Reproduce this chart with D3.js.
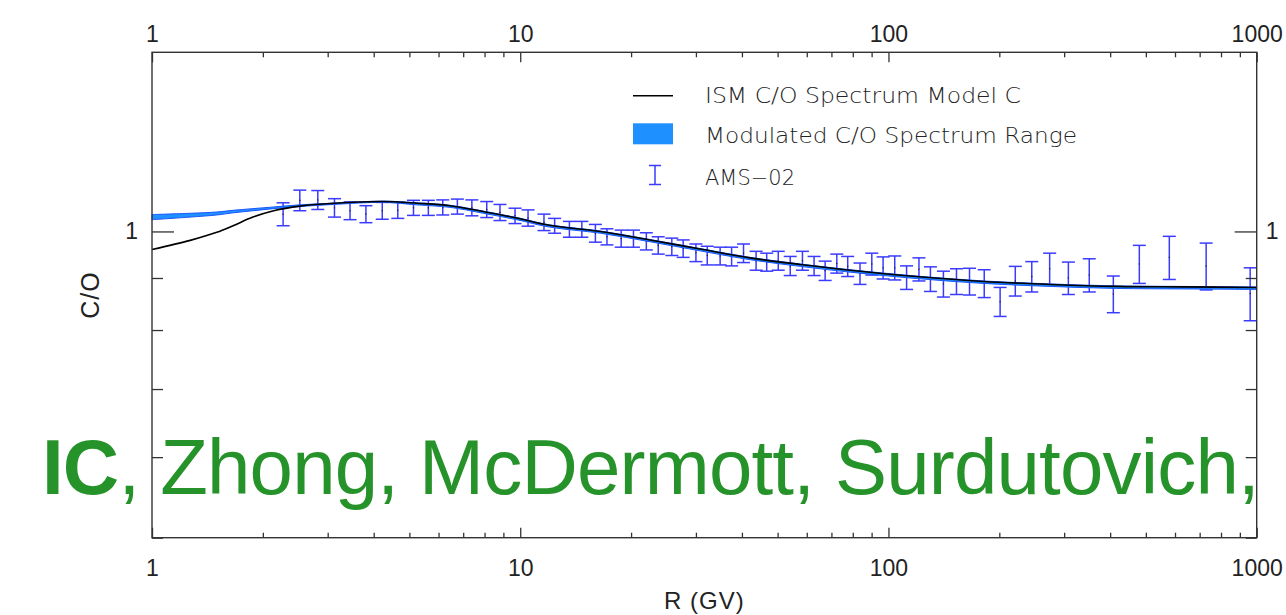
<!DOCTYPE html>
<html>
<head>
<meta charset="utf-8">
<script src="https://cdn.jsdelivr.net/npm/d3@7"></script>
<style>
  html, body { margin: 0; padding: 0; background: #fff; }
  svg { display: block; }
</style>
</head>
<body>
<svg id="chart" width="1286" height="615"></svg>
<script>
// ---------------- data ----------------
const xTickValues = [1, 10, 100, 1000];
const xTickLabels = ["1", "10", "100", "1000"];
const yTickValues = [1];
const yTickLabels = ["1"];
const yMinorTicks = [0.5, 0.6, 0.7, 0.8, 0.9];

// ISM C/O spectrum model C
const modelR  = [1.0, 1.27, 1.5, 1.66, 1.88, 2.14, 2.52, 3.11, 4.25, 5.24, 6.45, 7.94, 9.78, 12.0, 16.5, 22.5, 30.8, 42.1, 57.6, 78.7, 119, 181, 275, 417, 632, 1000];
const modelCO = [0.960, 0.980, 0.998, 1.013, 1.033, 1.048, 1.059, 1.066, 1.070, 1.066, 1.060, 1.046, 1.031, 1.014, 1.000, 0.981, 0.961, 0.942, 0.928, 0.916, 0.903, 0.893, 0.887, 0.883, 0.882, 0.881];

// Modulated C/O spectrum range
const bandR  = [1.0, 1.27, 1.5, 1.66, 1.88, 2.14, 2.52, 3.11, 4.25, 5.24, 6.45, 7.94, 9.78, 12.0, 16.5, 22.5, 30.8, 42.1, 57.6, 78.7, 119, 181, 275, 417, 632, 1000];
const bandLo = [1.027, 1.033, 1.038, 1.043, 1.048, 1.053, 1.058, 1.063, 1.068, 1.062, 1.056, 1.042, 1.027, 1.010, 0.996, 0.977, 0.957, 0.938, 0.924, 0.912, 0.899, 0.889, 0.883, 0.879, 0.878, 0.877];
const bandHi = [1.039, 1.042, 1.045, 1.049, 1.053, 1.057, 1.062, 1.066, 1.071, 1.067, 1.061, 1.047, 1.032, 1.015, 1.001, 0.982, 0.962, 0.943, 0.929, 0.917, 0.904, 0.894, 0.888, 0.884, 0.883, 0.882];

// AMS-02 data
const amsR = [2.27, 2.52, 2.82, 3.13, 3.45, 3.81, 4.22, 4.65, 5.13, 5.63,
              6.16, 6.75, 7.39, 8.11, 8.81, 9.68, 10.5, 11.6, 12.4, 13.6,
              14.7, 16.0, 17.2, 18.8, 20.3, 22.0, 23.7, 25.8, 27.7, 30.0,
              32.2, 34.9, 37.5, 40.4, 43.7, 46.7, 50.2, 54.1, 58.4, 62.8,
              67.3, 72.4, 77.5, 83.7, 90.1, 96.7, 104, 112, 121, 130,
              141, 153, 166, 182, 201, 221, 245, 274, 308, 351,
              408, 480, 579, 729, 960];
const amsCO = [1.040, 1.073, 1.074, 1.055, 1.048, 1.040, 1.048, 1.049, 1.055, 1.055,
               1.056, 1.058, 1.055, 1.051, 1.044, 1.036, 1.031, 1.021, 1.013, 1.005,
               1.005, 0.996, 0.988, 0.984, 0.984, 0.978, 0.969, 0.966, 0.962, 0.953,
               0.947, 0.946, 0.945, 0.952, 0.936, 0.933, 0.936, 0.925, 0.936, 0.925,
               0.915, 0.930, 0.924, 0.909, 0.929, 0.921, 0.921, 0.901, 0.918, 0.898,
               0.888, 0.893, 0.893, 0.889, 0.853, 0.894, 0.903, 0.919, 0.900, 0.906,
               0.868, 0.929, 0.943, 0.925, 0.869];
const amsErr = [0.027, 0.025, 0.023, 0.022, 0.021, 0.020, 0.020, 0.019, 0.018, 0.018,
                0.018, 0.018, 0.019, 0.019, 0.019, 0.018, 0.019, 0.019, 0.017, 0.018,
                0.018, 0.020, 0.018, 0.019, 0.019, 0.019, 0.019, 0.019, 0.019, 0.019,
                0.020, 0.019, 0.020, 0.020, 0.020, 0.019, 0.020, 0.020, 0.020, 0.020,
                0.020, 0.020, 0.021, 0.022, 0.023, 0.023, 0.025, 0.024, 0.024, 0.025,
                0.026, 0.026, 0.027, 0.028, 0.028, 0.030, 0.031, 0.033, 0.033, 0.034,
                0.036, 0.040, 0.046, 0.049, 0.052];

const legendLabels = ["ISM C/O Spectrum Model C", "Modulated C/O Spectrum Range", "AMS\u221202"];

// ---------------- layout ----------------
const L = 152, R = 1256.7, T = 52.3, B = 537.7;
const svg = d3.select("#chart");

const x = d3.scaleLog().domain([1, 1000]).range([L, R]);
const y = d3.scaleLog().domain([0.5, 1.5]).range([B, T]);

const xMinor = [];
[1, 10, 100].forEach(d => { for (let k = 2; k <= 9; k++) xMinor.push(d * k); });

const tickFont = "'Liberation Sans', Arial, Helvetica, sans-serif";
const axisColor = "#333";
const errColor = "#3b3bff";

// ---------------- data marks ----------------
const gData = svg.append("g");

// error bars
const capW = 6.5;
const eb = gData.append("g").selectAll("g").data(amsR.map((r, i) => ({r, v: amsCO[i], e: amsErr[i]})))
  .join("g");
eb.append("line")
  .attr("x1", d => x(d.r)).attr("x2", d => x(d.r))
  .attr("y1", d => y(d.v + d.e)).attr("y2", d => y(d.v - d.e))
  .attr("stroke", errColor).attr("stroke-width", 1.5);
eb.append("line")
  .attr("x1", d => x(d.r) - capW).attr("x2", d => x(d.r) + capW)
  .attr("y1", d => y(d.v + d.e)).attr("y2", d => y(d.v + d.e))
  .attr("stroke", errColor).attr("stroke-width", 1.5);
eb.append("line")
  .attr("x1", d => x(d.r) - capW).attr("x2", d => x(d.r) + capW)
  .attr("y1", d => y(d.v - d.e)).attr("y2", d => y(d.v - d.e))
  .attr("stroke", errColor).attr("stroke-width", 1.5);
eb.append("rect")
  .attr("x", d => x(d.r) - 0.6).attr("y", d => y(d.v) - 0.6)
  .attr("width", 1.2).attr("height", 1.2).attr("fill", "#222");

// modulated band
const area = d3.area()
  .x((d, i) => x(bandR[i]))
  .y0((d, i) => y(bandLo[i]))
  .y1((d, i) => y(bandHi[i]))
  .curve(d3.curveCatmullRom.alpha(0.5));
gData.append("path")
  .datum(bandR)
  .attr("d", area)
  .attr("fill", "#1e90ff")
  .attr("stroke", "#1a55ff")
  .attr("stroke-width", 1);

// model line
const line = d3.line()
  .x((d, i) => x(modelR[i]))
  .y((d, i) => y(modelCO[i]))
  .curve(d3.curveCatmullRom.alpha(0.5));
gData.append("path")
  .datum(modelR)
  .attr("d", line)
  .attr("fill", "none")
  .attr("stroke", "#000")
  .attr("stroke-width", 1.6);

// ---------------- axes ----------------
function styleAxis(g) {
  g.select(".domain").remove();
  g.selectAll(".tick line").attr("stroke", axisColor).attr("stroke-width", 1.3);
  g.selectAll(".tick text").attr("fill", "#222")
    .style("font-family", tickFont).style("font-size", "23px");
}

// bottom
svg.append("g").attr("transform", `translate(0,${B})`)
  .call(d3.axisBottom(x).tickValues(xMinor).tickSize(-5).tickFormat(""))
  .call(styleAxis);
svg.append("g").attr("transform", `translate(0,${B})`)
  .call(d3.axisBottom(x).tickValues(xTickValues).tickSize(-10).tickPadding(22)
    .tickFormat((d, i) => xTickLabels[i]))
  .call(styleAxis);
// top
svg.append("g").attr("transform", `translate(0,${T})`)
  .call(d3.axisTop(x).tickValues(xMinor).tickSize(-5).tickFormat(""))
  .call(styleAxis);
svg.append("g").attr("transform", `translate(0,${T})`)
  .call(d3.axisTop(x).tickValues(xTickValues).tickSize(-10).tickPadding(10.5)
    .tickFormat((d, i) => xTickLabels[i]))
  .call(styleAxis);
// left
svg.append("g").attr("transform", `translate(${L},0)`)
  .call(d3.axisLeft(y).tickValues(yMinorTicks).tickSize(-11).tickFormat(""))
  .call(styleAxis);
svg.append("g").attr("transform", `translate(${L},0)`)
  .call(d3.axisLeft(y).tickValues(yTickValues).tickSize(-22).tickPadding(14)
    .tickFormat((d, i) => yTickLabels[i]))
  .call(styleAxis);
// right
svg.append("g").attr("transform", `translate(${R},0)`)
  .call(d3.axisRight(y).tickValues(yMinorTicks).tickSize(-11).tickFormat(""))
  .call(styleAxis);
svg.append("g").attr("transform", `translate(${R},0)`)
  .call(d3.axisRight(y).tickValues(yTickValues).tickSize(-22).tickPadding(9)
    .tickFormat((d, i) => yTickLabels[i]))
  .call(styleAxis);

// frame
svg.append("rect")
  .attr("x", L).attr("y", T).attr("width", R - L).attr("height", B - T)
  .attr("fill", "none").attr("stroke", axisColor).attr("stroke-width", 1.4);

// axis titles
svg.append("text")
  .attr("x", (L + R) / 2).attr("y", 609)
  .attr("text-anchor", "middle")
  .style("font-family", tickFont).style("font-size", "24px").attr("fill", "#222")
  .attr("letter-spacing", "1")
  .text("R (GV)");
svg.append("text")
  .attr("transform", `translate(99,${(T + B) / 2}) rotate(-90)`)
  .attr("text-anchor", "middle")
  .style("font-family", tickFont).style("font-size", "25px").attr("fill", "#222")
  .attr("letter-spacing", "1")
  .text("C/O");

// ---------------- legend ----------------
const legFont = "'DejaVu Sans', sans-serif";
const lg = svg.append("g");
lg.append("line").attr("x1", 633).attr("x2", 673).attr("y1", 95.7).attr("y2", 95.7)
  .attr("stroke", "#000").attr("stroke-width", 1.6);
lg.append("rect").attr("x", 633).attr("y", 123.3).attr("width", 40).attr("height", 21)
  .attr("fill", "#1e90ff");
lg.append("line").attr("x1", 655).attr("x2", 655).attr("y1", 165.5).attr("y2", 184.5)
  .attr("stroke", errColor).attr("stroke-width", 1.5);
lg.append("line").attr("x1", 649).attr("x2", 661).attr("y1", 165.5).attr("y2", 165.5)
  .attr("stroke", errColor).attr("stroke-width", 1.5);
lg.append("line").attr("x1", 649).attr("x2", 661).attr("y1", 184.5).attr("y2", 184.5)
  .attr("stroke", errColor).attr("stroke-width", 1.5);
const legY = [103.3, 143.3, 185];
const legW = [316, 372, 90];
legendLabels.forEach((t, i) => {
  lg.append("text")
    .attr("x", 705).attr("y", legY[i])
    .attr("textLength", legW[i]).attr("lengthAdjust", "spacingAndGlyphs")
    .style("font-family", legFont).style("font-size", "21px").style("font-weight", "200")
    .attr("fill", "#222")
    .text(t);
});

// ---------------- overlay caption ----------------
const cap = svg.append("text")
  .attr("x", 42).attr("y", 494)
  .style("font-family", "'Liberation Sans', Arial, Helvetica, sans-serif")
  .style("font-size", "78px")
  .attr("letter-spacing", "-0.8")
  .attr("fill", "#26932a");
cap.append("tspan").style("font-weight", "bold").text("IC");
cap.append("tspan").text(", Zhong, McDermott, Surdutovich,");
</script>
</body>
</html>
